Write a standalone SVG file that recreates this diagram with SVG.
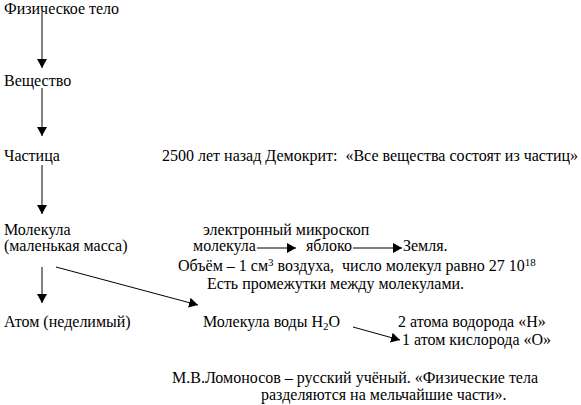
<svg xmlns="http://www.w3.org/2000/svg" width="581" height="405" viewBox="0 0 581 405">
<defs>
<style>
text{font-family:'Liberation Serif','DejaVu Serif',serif;font-size:16px;fill:#000}
.c line{stroke:#000;stroke-width:1}
</style>
<marker id="ah" viewBox="0 0 10 10" refX="10" refY="5" markerWidth="9" markerHeight="10" markerUnits="userSpaceOnUse" orient="auto" preserveAspectRatio="none">
<path d="M0,0 L10,5 L0,10 Z" fill="#000"/>
</marker>
</defs>
<rect width="581" height="405" fill="#fff"/>
<g class="c" id="connectors">
<line x1="42" y1="12" x2="42" y2="68" marker-end="url(#ah)"/>
<line x1="42" y1="88" x2="42" y2="136" marker-end="url(#ah)"/>
<line x1="42" y1="165" x2="42" y2="214" marker-end="url(#ah)"/>
<line x1="42" y1="267" x2="42" y2="303" marker-end="url(#ah)"/>
<line x1="56" y1="267" x2="198" y2="305" marker-end="url(#ah)"/>
<line x1="257" y1="248" x2="296" y2="248" marker-end="url(#ah)"/>
<line x1="353" y1="248" x2="402" y2="248" marker-end="url(#ah)"/>
<line x1="353" y1="327" x2="400" y2="340" marker-end="url(#ah)"/>
</g>
<g id="n1"><text x="4" y="14">Физическое тело</text></g>
<g id="n2"><text x="4" y="86">Вещество</text></g>
<g id="n3"><text x="4" y="161">Частица</text></g>
<g id="n4"><text x="4" y="235">Молекула</text><text x="4" y="251">(маленькая масса)</text></g>
<g id="n5"><text x="4" y="327">Атом (неделимый)</text></g>
<g id="t1"><text x="162" y="161" xml:space="preserve">2500 лет назад Демокрит:  «Все вещества состоят из частиц»</text></g>
<g id="t2">
<text x="203" y="235">электронный микроскоп</text>
<text x="193" y="251">молекула</text>
<text x="306" y="251">яблоко</text>
<text x="403" y="251">Земля.</text>
<text x="178" y="271" xml:space="preserve">Объём – 1 см<tspan dy="-5" font-size="11">3</tspan><tspan dy="5"> воздуха,  число молекул равно 27 10</tspan><tspan dy="-5" font-size="11">18</tspan></text>
<text x="207" y="289">Есть промежутки между молекулами.</text>
</g>
<g id="n6"><text x="203" y="327">Молекула воды H<tspan dy="3" font-size="11">2</tspan><tspan dy="-3">О</tspan></text></g>
<g id="t3">
<text x="398" y="327">2 атома водорода «Н»</text>
<text x="402" y="345">1 атом кислорода «О»</text>
</g>
<g id="t4">
<text x="172" y="383">М.В.Ломоносов – русский учёный. «Физические тела</text>
<text x="261" y="400">разделяются на мельчайшие части».</text>
</g>
</svg>
